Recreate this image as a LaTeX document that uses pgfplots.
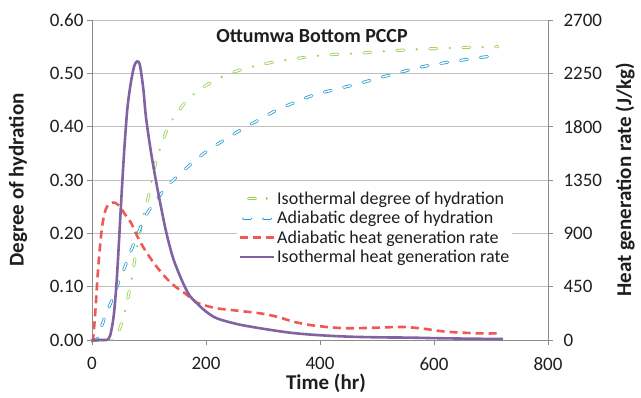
\documentclass[border=0pt]{standalone}
\usepackage{pgfplots}
\pgfplotsset{compat=1.18}
\usepackage{fontspec}
\setmainfont{Carlito}
\definecolor{cgreen}{RGB}{146,208,80}
\definecolor{cblue}{RGB}{30,155,215}
\definecolor{cred}{RGB}{240,88,86}
\definecolor{cpurple}{RGB}{128,100,162}
\definecolor{gridc}{RGB}{191,191,191}
\definecolor{axc}{RGB}{140,140,140}
\definecolor{txt}{RGB}{30,30,30}
\tikzset{
  greendash/.style={cgreen, line width=0.8pt, double=white, double distance=1.4pt, line cap=round, dash pattern=on 7pt off 26pt},
  greendot/.style={cgreen, line width=2.4pt, line cap=round, dash pattern=on 0.01pt off 32.99pt, dash phase=13pt},
  bluedash/.style={cblue, line width=0.8pt, double=white, double distance=1.4pt, line cap=round, dash pattern=on 7pt off 13pt},
  reddash/.style={cred, line width=2.6pt, dash pattern=on 8pt off 5pt},
  purpleline/.style={cpurple, line width=2.6pt},
}
\begin{document}
\begin{tikzpicture}
\begin{axis}[
  scale only axis, width=456pt, height=320pt,
  xmin=0, xmax=800, ymin=0, ymax=0.6,
  xtick={0,200,400,600,800},
  ytick={0,0.1,0.2,0.3,0.4,0.5,0.6},
  axis x line*=bottom, axis y line*=left,
  axis line style={axc, line width=0.8pt, -},
  ymajorgrids, grid style={gridc, line width=0.8pt},
  tick align=outside, major tick length=5pt,
  tick style={axc, line width=0.8pt},
  every tick label/.append style={font=\fontsize{19}{22}\selectfont, text=txt},
  /pgf/number format/assume math mode=true,
  yticklabel style={/pgf/number format/.cd, fixed, fixed zerofill, precision=2},
  xticklabel style={/pgf/number format/1000 sep={}, yshift=-9pt},
  xlabel={Time (hr)},
  ylabel={Degree of hydration},
  label style={font=\bfseries\fontsize{21}{24}\selectfont, text=txt},
  xlabel style={at={(axis description cs:0.513,-0.134)}, anchor=center},
  ylabel style={at={(axis description cs:-0.162,0.5)}, anchor=center},
  clip=false,
]
\addplot[greendash, smooth, tension=0.5] coordinates {
(0,0) (35,0) (40,0.003) (46,0.015) (52,0.031) (58,0.055) (64,0.084) (70,0.117) (75,0.150) (81,0.185) (87,0.219) (93,0.245) (99,0.269) (110,0.325) (117,0.350) (125.5,0.378) (137,0.406) (155,0.434) (172,0.455) (201,0.478) (242,0.500) (295,0.516) (347,0.526) (406,0.534) (464,0.5375) (552,0.544) (640,0.548) (712,0.550)};
\addplot[greendot, smooth, tension=0.5] coordinates {
(0,0) (35,0) (40,0.003) (46,0.015) (52,0.031) (58,0.055) (64,0.084) (70,0.117) (75,0.150) (81,0.185) (87,0.219) (93,0.245) (99,0.269) (110,0.325) (117,0.350) (125.5,0.378) (137,0.406) (155,0.434) (172,0.455) (201,0.478) (242,0.500) (295,0.516) (347,0.526) (406,0.534) (464,0.5375) (552,0.544) (640,0.548) (712,0.550)};
\addplot[bluedash, smooth, tension=0.5] coordinates {
(0,0) (8,0) (15,0.02) (23,0.044) (35,0.075) (46,0.106) (58,0.138) (69,0.169) (81,0.200) (93,0.231) (110,0.258) (131,0.2875) (149,0.306) (178,0.334) (204,0.356) (236.5,0.378) (266,0.397) (295,0.414) (324,0.431) (359,0.447) (388,0.459) (423,0.469) (458,0.478) (523,0.497) (587,0.514) (657,0.526) (712,0.534)};
\node[font=\bfseries\fontsize{20}{23}\selectfont, text=txt] at (axis description cs:0.4825,0.95) {Ottumwa Bottom PCCP};
\end{axis}
\begin{axis}[
  scale only axis, width=456pt, height=320pt,
  xmin=0, xmax=800, ymin=0, ymax=2700,
  ytick={0,450,900,1350,1800,2250,2700},
  axis x line=none, axis y line*=right,
  axis line style={axc, line width=0.8pt, -},
  tick align=outside, major tick length=5pt,
  tick style={axc, line width=0.8pt},
  every tick label/.append style={font=\fontsize{19}{22}\selectfont, text=txt},
  /pgf/number format/assume math mode=true,
  yticklabel style={/pgf/number format/1000 sep={}, xshift=7pt},
  ylabel={Heat generation rate (J/kg)},
  label style={font=\bfseries\fontsize{21}{24}\selectfont, text=txt},
  ylabel style={at={(axis description cs:1.169,0.5)}, anchor=center, rotate=0},
  legend style={at={(axis description cs:0.318,0.474)}, anchor=north west, draw=none, fill=white,
    font=\fontsize{18}{20}\selectfont, text=txt, inner xsep=1pt, inner ysep=1pt, row sep=1.5pt},
  legend cell align=left,
  clip=false,
]
\addlegendimage{legend image code/.code={\draw[greendash, dash phase=-9pt] (0pt,0pt)--(34pt,0pt); \draw[greendot, dash phase=-27pt] (0pt,0pt)--(34pt,0pt);}}
\addlegendentry{Isothermal degree of hydration}
\addlegendimage{legend image code/.code={\draw[bluedash, dash phase=-4pt] (0pt,0pt)--(34pt,0pt);}}
\addlegendentry{Adiabatic degree of hydration}
\addplot[reddash, smooth, tension=0.5, legend image code/.code={\draw[reddash] (0pt,0pt)--(34pt,0pt);}] coordinates {
(0,0) (2,10) (6,250) (11,619) (17,928) (22,1070) (27,1130) (33,1155) (40,1159) (48,1130) (58,1060) (69,984) (80,870) (93,759) (110,640) (128,534) (145,455) (163,394) (184,315) (196,295) (219,267) (254,248) (295,225) (324,197) (353,155) (382,127) (418,107) (452,99) (499,104) (546,110) (580,96) (622,70) (680,56) (712,56)};
\addlegendentry{Adiabatic heat generation rate}
\addplot[purpleline, smooth, tension=0.5, legend image code/.code={\draw[purpleline] (0pt,0pt)--(34pt,0pt);}] coordinates {
(0,0) (20,0) (27,3) (32,40) (38,200) (43,478) (47,800) (51,1153) (56.6,1603) (62,1950) (68,2166) (74,2310) (79,2350) (84,2320) (90,2120) (94.6,1884) (103,1600) (113,1322) (122,1100) (130.7,900) (143,680) (160,478) (172,370) (184,310) (200,240) (219,183) (254,135) (295,99) (347,62) (394,42) (452,28) (510,22) (558,20) (620,14) (721,8)};
\addlegendentry{Isothermal heat generation rate}
\end{axis}
\pgfresetboundingbox
\path[use as bounding box] (-92pt,-57pt) rectangle (549pt,340pt);
\end{tikzpicture}
\end{document}
